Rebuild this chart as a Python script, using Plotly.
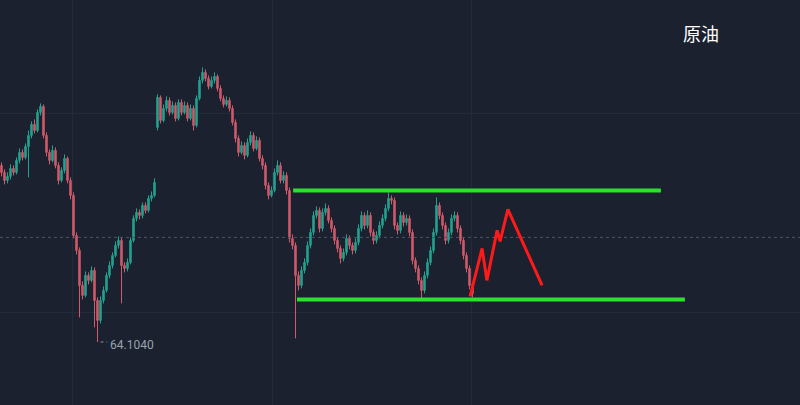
import plotly.graph_objects as go

# ---- candle data (crude oil) ----
opens = [65.87,65.80,65.72,65.76,65.84,65.80,65.92,66.00,65.95,66.06,
         66.17,66.28,66.22,66.40,66.46,66.17,66.00,65.92,66.02,65.87,
         65.72,65.82,65.94,65.72,65.57,65.17,65.02,64.67,64.57,64.77,
         64.72,64.82,64.52,64.32,64.52,64.62,64.77,64.87,64.97,65.07,
         65.12,64.87,64.84,64.90,65.12,65.34,65.40,65.37,65.47,65.42,
         65.54,65.57,66.25,66.55,66.32,66.44,66.52,66.40,66.47,66.34,
         66.50,66.40,66.47,66.34,66.44,66.27,66.54,66.72,66.80,66.74,
         66.66,66.72,66.76,66.64,66.54,66.48,66.52,66.44,66.30,66.14,
         66.00,66.07,65.97,66.10,66.17,66.04,66.12,65.94,65.87,65.67,
         65.57,65.62,65.80,65.87,65.72,65.77,65.62,65.14,65.07,64.77,
         64.67,64.82,64.90,65.07,65.20,65.37,65.42,65.24,65.40,65.44,
         65.32,65.24,65.12,65.04,64.94,65.00,65.14,65.07,65.02,65.10,
         65.24,65.37,65.27,65.37,65.20,65.12,65.17,65.27,65.34,65.44,
         65.54,65.52,65.27,65.22,65.37,65.30,65.34,65.20,64.92,64.84,
         64.72,64.62,64.77,64.90,65.02,65.20,65.47,65.37,65.27,65.12,
         65.20,65.34,65.37,65.24,65.12,64.97,64.84,64.67]
closes = [65.80,65.72,65.76,65.84,65.80,65.92,66.00,65.95,66.06,66.17,
          66.28,66.22,66.40,66.46,66.17,66.00,65.92,66.02,65.87,65.72,
          65.82,65.94,65.72,65.57,65.17,65.02,64.67,64.57,64.77,64.72,
          64.82,64.52,64.32,64.52,64.62,64.77,64.87,64.97,65.07,65.12,
          64.87,64.84,64.90,65.12,65.34,65.40,65.37,65.47,65.42,65.54,
          65.57,65.70,66.55,66.32,66.44,66.52,66.40,66.47,66.34,66.50,
          66.40,66.47,66.34,66.44,66.27,66.54,66.72,66.80,66.74,66.66,
          66.72,66.76,66.64,66.54,66.48,66.52,66.44,66.30,66.14,66.00,
          66.07,65.97,66.10,66.17,66.04,66.12,65.94,65.87,65.67,65.57,
          65.62,65.80,65.87,65.72,65.77,65.62,65.14,65.07,64.77,64.67,
          64.82,64.90,65.07,65.20,65.37,65.42,65.24,65.40,65.44,65.32,
          65.24,65.12,65.04,64.94,65.00,65.14,65.07,65.02,65.10,65.24,
          65.37,65.27,65.37,65.20,65.12,65.17,65.27,65.34,65.44,65.54,
          65.52,65.27,65.22,65.37,65.30,65.34,65.20,64.92,64.84,64.72,
          64.62,64.77,64.90,65.02,65.20,65.47,65.37,65.27,65.12,65.20,
          65.34,65.37,65.24,65.12,64.97,64.84,64.67,64.59]
highs = [65.90,65.83,65.80,65.88,65.87,65.95,66.04,66.03,66.09,66.22,
         66.31,66.33,66.43,66.49,66.48,66.20,66.03,66.07,66.05,65.90,
         65.85,65.98,65.96,65.75,65.60,65.20,65.05,64.71,64.81,64.80,
         64.86,64.85,64.55,64.56,64.66,64.80,64.91,65.00,65.11,65.16,
         65.15,64.90,64.94,65.15,65.37,65.44,65.43,65.50,65.50,65.57,
         65.61,65.74,66.58,66.57,66.48,66.56,66.55,66.51,66.50,66.53,
         66.53,66.51,66.50,66.48,66.47,66.57,66.76,66.85,66.83,66.77,
         66.76,66.80,66.78,66.67,66.57,66.56,66.55,66.47,66.33,66.17,
         66.11,66.10,66.14,66.21,66.20,66.16,66.15,65.97,65.90,65.70,
         65.66,65.84,65.92,65.90,65.81,65.80,65.65,65.18,65.10,64.81,
         64.86,64.94,65.11,65.24,65.41,65.46,65.45,65.44,65.49,65.47,
         65.35,65.27,65.15,65.07,65.04,65.18,65.17,65.10,65.14,65.28,
         65.41,65.40,65.42,65.40,65.23,65.21,65.31,65.38,65.48,65.60,
         65.57,65.55,65.30,65.41,65.40,65.38,65.37,65.23,64.95,64.87,
         64.75,64.81,64.94,65.06,65.24,65.55,65.50,65.40,65.30,65.24,
         65.38,65.41,65.40,65.27,65.15,65.00,64.87,64.70]
lows = [65.76,65.68,65.69,65.73,65.77,65.78,65.89,65.92,65.93,65.75,
        66.14,66.19,66.20,66.37,66.14,65.96,65.88,65.90,65.84,65.68,
        65.70,65.79,65.69,65.53,65.14,64.98,64.35,64.53,64.55,64.68,
        64.70,64.25,64.104,64.29,64.49,64.60,64.74,64.84,64.95,65.04,
        64.49,64.80,64.81,64.88,65.10,65.31,65.33,65.34,65.39,65.40,
        65.51,65.55,66.22,66.29,66.30,66.41,66.37,66.38,66.31,66.32,
        66.37,66.38,66.31,66.32,66.22,66.25,66.52,66.69,66.71,66.63,
        66.64,66.69,66.61,66.51,66.45,66.46,66.41,66.27,66.10,65.96,
        65.98,65.93,65.95,66.07,66.01,66.02,65.91,65.83,65.63,65.53,
        65.55,65.60,65.77,65.69,65.69,65.58,65.10,65.03,64.14,64.62,
        64.64,64.79,64.87,65.04,65.17,65.34,65.20,65.21,65.37,65.29,
        65.20,65.08,65.00,64.89,64.91,64.97,65.03,64.98,64.99,65.07,
        65.21,65.23,65.24,65.16,65.08,65.09,65.14,65.24,65.31,65.41,
        65.48,65.23,65.18,65.19,65.26,65.27,65.16,64.88,64.80,64.68,
        64.54,64.59,64.74,64.87,64.99,65.17,65.33,65.23,65.08,65.09,
        65.17,65.31,65.20,65.08,64.93,64.80,64.63,64.55]
bar_index = list(range(len(closes)))

# ---- drawn annotations ----
resistance_x = [97.2, 219.8]
resistance_y = [65.62, 65.62]
support_x = [98.5, 227.8]
support_y = [64.53, 64.53]
path_x = [156.2, 160.2, 161.8, 165.2, 166.2, 168.8, 180.2]
path_y = [64.56, 65.04, 64.72, 65.22, 65.11, 65.43, 64.67]
last_price = 65.15
low_price = 64.104
low_index = 32
title_text = "原油"
low_label = "64.1040"

BG = "#1b212e"
GRID = "#232b38"

fig = go.Figure()
fig.add_trace(go.Candlestick(
    x=bar_index, open=opens, high=highs, low=lows, close=closes,
    increasing=dict(line=dict(color="#23a28f", width=1), fillcolor="#23a28f"),
    decreasing=dict(line=dict(color="#cf5a6a", width=1), fillcolor="#cf5a6a"),
    whiskerwidth=0, showlegend=False, hoverinfo="skip"))

fig.add_trace(go.Scatter(x=[-0.5, 266.2], y=[last_price, last_price], mode="lines",
                         line=dict(color="#4c5463", width=1, dash="dot"),
                         showlegend=False, hoverinfo="skip"))
fig.add_trace(go.Scatter(x=resistance_x, y=resistance_y, mode="lines",
                         line=dict(color="#2be12b", width=4),
                         showlegend=False, hoverinfo="skip"))
fig.add_trace(go.Scatter(x=support_x, y=support_y, mode="lines",
                         line=dict(color="#2be12b", width=4),
                         showlegend=False, hoverinfo="skip"))
fig.add_trace(go.Scatter(x=path_x, y=path_y, mode="lines",
                         line=dict(color="#ff1a1a", width=3),
                         showlegend=False, hoverinfo="skip"))
fig.add_trace(go.Scatter(x=[low_index + 1.0, low_index + 3.3], y=[low_price, low_price],
                         mode="lines", line=dict(color="#8a93a0", width=1, dash="dot"),
                         showlegend=False, hoverinfo="skip"))

fig.add_annotation(x=low_index + 3.6, y=low_price, text=low_label, showarrow=False,
                   xanchor="left", yanchor="middle", yshift=-3,
                   font=dict(family="Roboto, DejaVu Sans", size=12, color="#9aa2ae"))
fig.add_annotation(x=0.876, y=0.918, xref="paper", yref="paper", text=title_text,
                   showarrow=False, xanchor="center", yanchor="middle",
                   font=dict(family="Noto Sans CJK SC", size=18, color="#ffffff"))

fig.update_layout(
    width=800, height=405, margin=dict(l=0, r=0, t=0, b=0),
    paper_bgcolor=BG, plot_bgcolor=BG,
    xaxis=dict(range=[-0.5, 266.17], rangeslider=dict(visible=False),
               tickvals=[23.83, 90.17, 156.83], showticklabels=False,
               showgrid=True, gridcolor=GRID, gridwidth=1, zeroline=False, showline=False),
    yaxis=dict(range=[63.474, 67.524], tickvals=[64.40, 66.39],
               showticklabels=False, showgrid=True, gridcolor=GRID, gridwidth=1,
               zeroline=False, showline=False),
)

fig.write_html("out.html", config={"displayModeBar": False},
               post_script="document.body.style.margin='0';document.body.style.background='" + BG + "';")
